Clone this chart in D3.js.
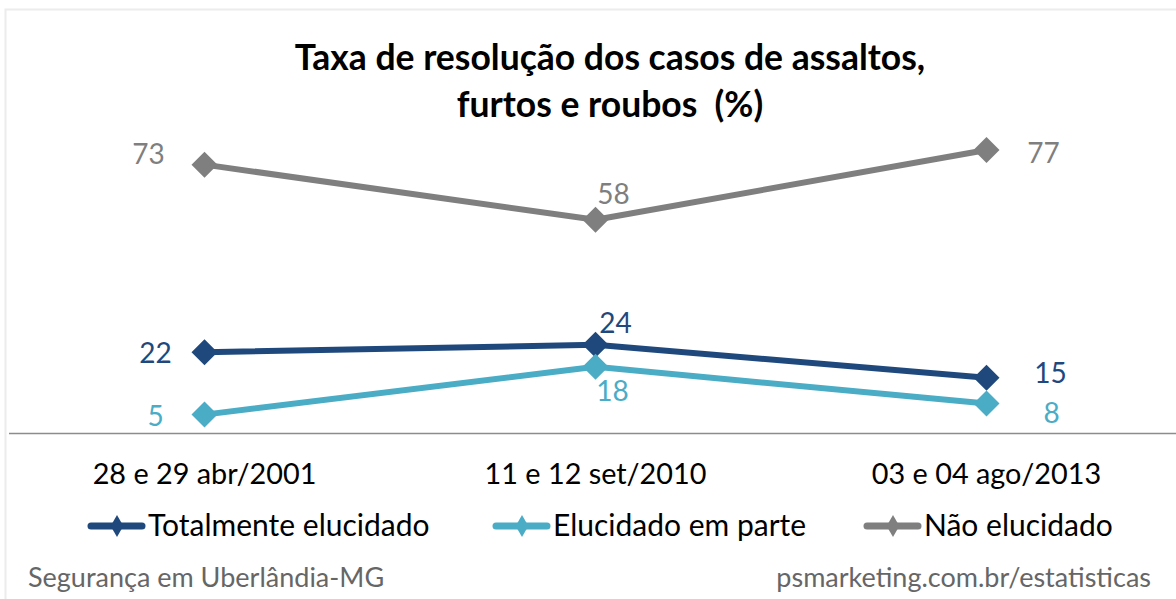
<!DOCTYPE html>
<html>
<head>
<meta charset="utf-8">
<script src="https://cdn.jsdelivr.net/npm/d3@7"></script>
<style>
  body { margin: 0; background: #fff; }
  svg { display: block; font-family: Lato, "Open Sans", sans-serif; }
</style>
</head>
<body>
<svg id="chart"></svg>
<script>
// data
const categories = ['28 e 29 abr/2001', '11 e 12 set/2010', '03 e 04 ago/2013'];
const seriesNames = ['Totalmente elucidado', 'Elucidado em parte', 'Não elucidado'];
const totalmente = [22, 24, 15];
const emParte = [5, 18, 8];
const naoElucidado = [73, 58, 77];
const titleLines = ['Taxa de resolução dos casos de assaltos,', 'furtos e roubos  (%)'];
const sourceLeft = 'Segurança em Uberlândia-MG';
const sourceRight = 'psmarketing.com.br/estatisticas';

// label placement for each series point (offset from the point, px)
const labelOffsets = [
  [[-49, 11], [20, -12], [64, 5]],
  [[-49, 11], [17, 34], [65, 19]],
  [[-56, -1], [18, -16], [57, 13]]
];

const colors = ['#1F497D', '#4BACC6', '#7F7F7F'];

const width = 1176, height = 599;
const margin = {top: 10, left: 9, bottom: 166};

const svg = d3.select('#chart')
    .attr('width', width)
    .attr('height', height);

// outer frame
svg.append('rect')
    .attr('x', 5.5).attr('y', 9.5)
    .attr('width', width + 10).attr('height', height)
    .attr('fill', '#fff')
    .attr('stroke', '#ececec')
    .attr('stroke-width', 2);

const series = seriesNames.map((name, i) => ({
  name,
  color: colors[i],
  values: [totalmente, emParte, naoElucidado][i],
  offsets: labelOffsets[i]
}));

const xScale = d3.scaleBand()
    .domain(categories)
    .range([margin.left, 1182]);

const yScale = d3.scaleLinear()
    .domain([0, 100])
    .range([433, 65.4]);

const xc = d => xScale(d) + xScale.bandwidth() / 2;

// title
svg.append('text')
    .attr('x', 610).attr('y', 70)
    .attr('text-anchor', 'middle')
    .attr('font-size', 35.5)
    .attr('font-weight', 'bold')
    .attr('fill', '#000')
  .selectAll('tspan')
    .data(titleLines)
  .join('tspan')
    .attr('x', 610)
    .attr('dy', (d, i) => i === 0 ? 0 : 47)
    .style('white-space', 'pre')
    .text(d => d);

// x axis
const xAxis = d3.axisBottom(xScale).tickSize(0).tickPadding(31);
const xAxisG = svg.append('g')
    .attr('transform', `translate(0,${yScale(0)})`)
    .call(xAxis);
xAxisG.select('.domain')
    .attr('d', `M${margin.left},0.5H${width}`)
    .attr('stroke', '#8c8c8c')
    .attr('stroke-width', 1.5);
xAxisG.selectAll('.tick text')
    .attr('font-family', 'Lato, sans-serif')
    .attr('font-size', 28.8)
    .attr('fill', '#000');

// lines
const line = d3.line()
    .x((d, i) => xc(categories[i]))
    .y(d => yScale(d));

const diamond = d3.symbol().type(d3.symbolSquare).size(338);

const seriesG = svg.selectAll('.series')
    .data(series)
  .join('g')
    .attr('class', 'series');

seriesG.append('path')
    .attr('d', d => line(d.values))
    .attr('fill', 'none')
    .attr('stroke', d => d.color)
    .attr('stroke-width', 6)
    .attr('stroke-linejoin', 'round');

seriesG.selectAll('.marker')
    .data(d => d.values.map((v, i) => ({v, i, color: d.color})))
  .join('path')
    .attr('class', 'marker')
    .attr('d', diamond)
    .attr('transform', d => `translate(${xc(categories[d.i])},${yScale(d.v)}) rotate(45)`)
    .attr('fill', d => d.color);

seriesG.selectAll('.label')
    .data(d => d.values.map((v, i) => ({v, i, color: d.color, off: d.offsets[i]})))
  .join('text')
    .attr('class', 'label')
    .attr('x', d => xc(categories[d.i]) + d.off[0])
    .attr('y', d => yScale(d.v) + d.off[1])
    .attr('text-anchor', 'middle')
    .attr('font-size', 28)
    .attr('fill', d => d.color)
    .text(d => d.v);

// legend
const legendX = [88, 493, 864];
const legend = svg.selectAll('.legend')
    .data(series)
  .join('g')
    .attr('class', 'legend')
    .attr('transform', (d, i) => `translate(${legendX[i]},526)`);

legend.append('line')
    .attr('x1', 3).attr('x2', 54)
    .attr('stroke', d => d.color)
    .attr('stroke-width', 7)
    .attr('stroke-linecap', 'round');

legend.append('path')
    .attr('d', d3.symbol().type(d3.symbolDiamond).size(140))
    .attr('transform', 'translate(29,0)')
    .attr('fill', d => d.color);

legend.append('text')
    .attr('x', 60).attr('y', 10)
    .attr('font-size', 30)
    .attr('fill', '#000')
    .text(d => d.name);

// footer
svg.append('text')
    .attr('x', 28).attr('y', 587)
    .attr('font-size', 27)
    .attr('fill', '#666')
    .text(sourceLeft);

svg.append('text')
    .attr('x', 1151).attr('y', 587)
    .attr('text-anchor', 'end')
    .attr('font-size', 27)
    .attr('fill', '#666')
    .text(sourceRight);
</script>
</body>
</html>
